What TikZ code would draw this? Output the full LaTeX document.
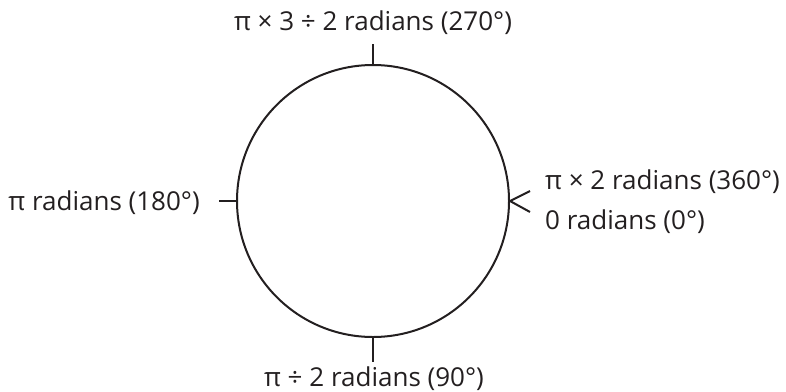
\documentclass[tikz,border=0pt]{standalone}
\usepackage{fontspec}
\setmainfont{Open Sans}
\usetikzlibrary{positioning}
\definecolor{ink}{HTML}{231F20}
\tikzset{
 wheel/.style={circle,draw=ink,line width=2pt,minimum size=272pt,inner sep=0pt},
 tick/.style={draw=ink,line width=2pt},
 label/.style={font=\fontsize{26}{30}\selectfont,text=ink,inner sep=0pt}
}
\begin{document}
\begin{tikzpicture}[x=1pt,y=-1pt]
\useasboundingbox (0,0) rectangle (786,391);
\node[wheel] (circ) at (373,201) {};
\node[label,anchor=base] (top) at (373,30) {π × 3 ÷ 2 radians (270°)};
\node[label,anchor=base] (bottom) at (374,386) {π ÷ 2 radians (90°)};
\node[label,anchor=east] (left) at (200,203) {π radians (180°)};
\node[label,anchor=west] (full) at (545,182) {π × 2 radians (360°)};
\node[label,anchor=west] (zero) at (545,222) {0 radians (0°)};
\draw[tick] ([yshift=20pt]circ.north)--(circ.north);
\draw[tick] (circ.south)--([yshift=-24pt]circ.south);
\draw[tick] ([xshift=-17pt]circ.west)--(circ.west);
\draw[tick] ([shift={(20pt,10pt)}]circ.east)--(circ.east)--([shift={(20pt,-11pt)}]circ.east);
\end{tikzpicture}
\end{document}
